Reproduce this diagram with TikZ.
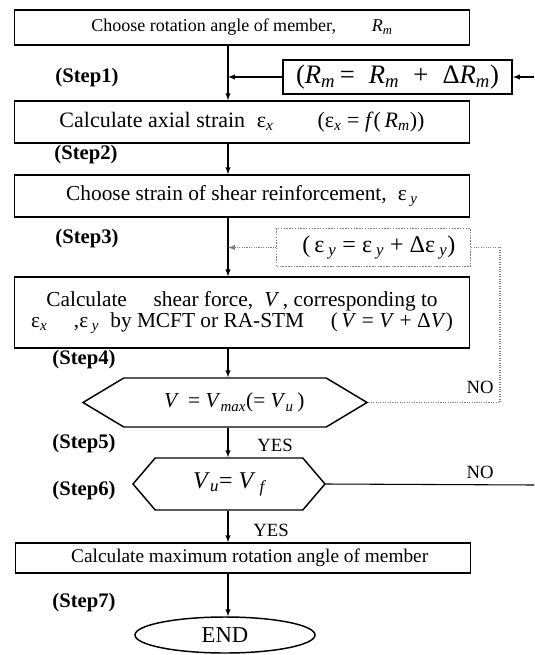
\documentclass[tikz,border=0pt]{standalone}
\usepackage{fontspec}
\setmainfont{Liberation Serif}
\usetikzlibrary{shapes,arrows,positioning}

\newcommand{\ital}[1]{\textit{#1}}
\newcommand{\lsub}[1]{\textsubscript{\itshape #1}}
\newcommand{\fs}[1]{\fontsize{#1}{#1}\selectfont}

\begin{document}
\begin{tikzpicture}[x=0.75pt,y=-0.75pt,font=\fs{13.5},>=latex,
    box/.style={draw,line width=1.1pt,minimum width=341pt,align=center,inner sep=2pt},
    dec/.style={draw,line width=1.1pt,signal,signal to=west and east,inner sep=1pt,font=\fs{16}},
    steplbl/.style={font=\fs{15.5}\bfseries},
    yn/.style={font=\fs{14}},
    flow/.style={->,line width=0.8pt}]
\useasboundingbox (0,0) rectangle (534,655);
\coordinate (spine) at (228,0);
\coordinate (loopE) at (500,0);
\coordinate (edgeA) at (534,77);
\coordinate (edgeB) at (534,485);
% main column
\node[box,minimum height=26.25pt] (rot) at (242,27.5) {Choose rotation angle of member,\qquad \ital{R}\lsub{m}};
\node[box,minimum height=31.5pt,font=\fs{16.5}] (axial) at (242,122) {Calculate axial strain\; ε\lsub{x}\qquad (ε\lsub{x} = \ital{f}(\,\ital{R}\lsub{m}))};
\node[box,minimum height=31.5pt,font=\fs{16}] (shear) at (242,196) {Choose strain of shear reinforcement,\; ε\,\lsub{y}};
\node[box,minimum height=53pt,font=\fs{16}] (force) at (242,312.5) {Calculate \quad shear force,\; \ital{V}\,, corresponding to\\ ε\lsub{x} \quad ,ε\,\lsub{y}\; by MCFT or RA-STM \quad (\,\ital{V} = \ital{V} + Δ\ital{V})};
\node[dec,signal pointer angle=62,minimum width=213pt,minimum height=36.75pt] (vmax) at (225,402.5) {\hspace{14pt}\ital{V}\, = \ital{V}\lsub{max}(= \ital{V}\lsub{u}\,)};
\node[dec,signal pointer angle=99,minimum width=144pt,minimum height=39pt,font=\fs{18}] (vf) at (229,484) {\ital{V}\lsub{u}= \ital{V}\,\lsub{f}};
\node[box,minimum height=22.5pt,font=\fs{14.5}] (maxrot) at (243,558) {\hspace{10pt}Calculate maximum rotation angle of member};
\node[draw,ellipse,line width=1.1pt,minimum width=135pt,minimum height=27pt,font=\fs{17}] (stop) at (225,635) {END};
% increments
\node[box,minimum width=172pt,minimum height=25.5pt,font=\fs{20},inner sep=1pt] (incR) at (397.5,77) {(\ital{R}\lsub{m}\,=\; \ital{R}\lsub{m}\; +\; Δ\ital{R}\lsub{m})};
\node[box,draw=gray,densely dotted,line width=0.8pt,minimum width=145pt,minimum height=29pt,font=\fs{18}] (incE) at (373.5,247.5) {\hspace{8pt}(\,ε\,\lsub{y} = ε\,\lsub{y} + Δε\,\lsub{y})};
% step labels
\node[steplbl] (s1) at (87,78) {(Step1)};
\node[steplbl] (s2) at (86,155) {(Step2)};
\node[steplbl] (s3) at (87,239) {(Step3)};
\node[steplbl] (s4) at (84,360) {(Step4)};
\node[steplbl] (s5) at (84,444) {(Step5)};
\node[steplbl] (s6) at (84,491) {(Step6)};
\node[steplbl] (s7) at (84,603) {(Step7)};
\node[yn] (y1) at (275,445) {YES};
\node[yn] (y2) at (271,530) {YES};
\node[yn] (n1) at (480,387) {NO};
\node[yn] (n2) at (480,472) {NO};
% connectors
\draw[flow] (rot.south -| spine) -- (axial.north -| spine);
\draw[flow] (incR.west) -- (incR.west -| spine);
\draw[flow] (edgeA) -- (incR.east);
\draw[flow] (axial.south -| spine) -- (shear.north -| spine);
\draw[flow] (shear.south -| spine) -- (force.north -| spine);
\draw[flow,gray,densely dotted] (incE.west) -- (incE.west -| spine);
\draw[gray,densely dotted,line width=0.8pt] (vmax.east) -- (vmax.east -| loopE) |- (incE.east);
\draw[flow] (force.south -| spine) -- (vmax.north -| spine);
\draw[flow] (vmax.south -| spine) -- (vf.north -| spine);
\draw[line width=0.8pt] (vf.east) -- (edgeB);
\draw[flow] (vf.south -| spine) -- (maxrot.north -| spine);
\draw[flow] (maxrot.south -| spine) -- (stop.north -| spine);
\end{tikzpicture}
\end{document}
